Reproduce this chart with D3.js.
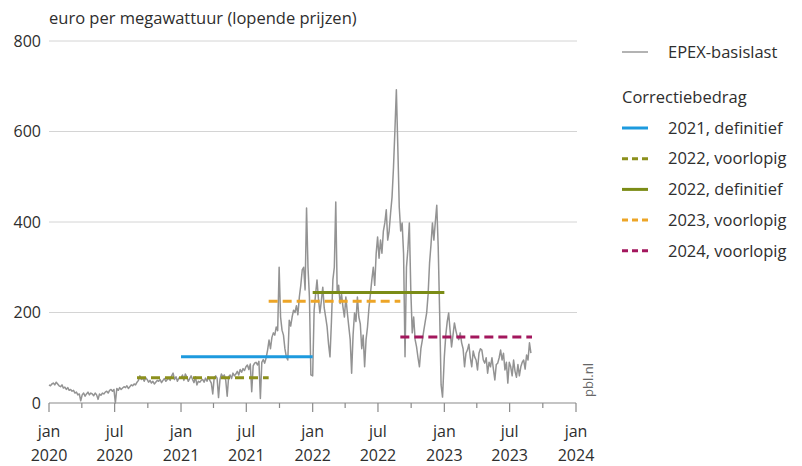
<!DOCTYPE html>
<html>
<head>
<meta charset="utf-8">
<script src="https://cdn.jsdelivr.net/npm/d3@7"></script>
<style>
  body { margin: 0; background: #fff; }
  svg text { font-family: "Open Sans", "DejaVu Sans", sans-serif; fill: #2e2e2e; }
</style>
</head>
<body>
<svg id="chart" width="802" height="466"></svg>
<script>
const prices2020 = [
  40, 38, 42, 44, 40, 46, 42, 38,
  36, 40, 33, 35, 30, 34, 28,
  30, 26, 28, 22, 24, 18, 20, 5,
  18, 22, 15, 20, 24, 18, 22,
  20, 16, 22, 18, 8, 20, 17, 22,
  20, 24, 26, 22, 28, 30, 26,
  30, 0, 32, 28, 34, 30, 33, 36,
  34, 38, 32, 36, 40, 38, 42, 40,
  46, 50, 60, 52, 55, 48, 56,
  52, 46, 50, 44, 48, 42, 46, 50,
  48, 52, 45, 50, 54, 48, 52,
  55, 50, 60, 66, 52, 58, 48, 55
];
const prices2021 = [
  55, 62, 50, 64, 58, 48, 54, 60,
  52, 45, 58, 40, 48, 46, 50,
  52, 46, 55, 48, 58, 50, 44, 20,
  56, 60, 55, 12, 52, 64, 58,
  62, 50, 15, 58, 62, 54, 66, 60,
  64, 70, 62, 74, 68, 76, 72,
  80, 84, 74, 86, 25, 82, 88, 90,
  84, 92, 10, 90, 96, 88, 100, 117,
  139, 120, 145, 155, 150, 168, 160,
  300, 190, 161, 150, 120, 102, 95, 183,
  170, 190, 205, 200, 215, 195, 234,
  260, 294, 300, 250, 431, 300, 234, 62
];
const prices2022 = [
  60, 205, 240, 272, 230, 199, 225, 256,
  210, 190, 168, 130, 102, 180, 272,
  300, 444, 243, 260, 220, 240, 212, 190,
  234, 200, 170, 140, 66, 150, 199,
  180, 234, 190, 175, 120, 150, 80, 140,
  168, 210, 240, 272, 300, 260, 330,
  367, 320, 360, 331, 380, 398, 427, 360,
  380, 420, 455, 520, 603, 692, 566, 433,
  380, 398, 330, 102, 300, 340, 398,
  250, 155, 190, 140, 124, 100, 80, 120,
  139, 160, 180, 199, 240, 309, 350,
  398, 360, 400, 437, 345, 199, 40, 13
];
const prices2023 = [
  102, 150, 180, 199, 160, 124, 150, 177,
  160, 146, 140, 155, 133, 120, 80,
  110, 117, 130, 100, 80, 115, 102, 95,
  73, 110, 120, 117, 95, 88, 100,
  66, 90, 80, 100, 75, 51, 85, 88,
  100, 117, 95, 110, 73, 90, 44,
  90, 80, 60, 95, 70, 57, 85, 60,
  80, 90, 95, 75, 106, 95, 133, 110
];

// correctiebedragen
const corrLabels = ["2021, definitief", "2022, voorlopig", "2022, definitief", "2023, voorlopig", "2024, voorlopig"];
const corrStart = ["2021-01-01", "2020-09-01", "2022-01-01", "2021-09-01", "2022-09-01"];
const corrEnd = ["2022-01-01", "2021-09-01", "2023-01-01", "2022-09-01", "2023-09-01"];
const corrValues = [102, 56, 244, 225, 146];
const corrColors = ["#1d9ade", "#8c901c", "#7b8c16", "#eda527", "#a3175d"];
const corrDashed = [false, true, false, true, true];

const yTicks = [0, 200, 400, 600, 800];

const svg = d3.select("#chart");
const parse = d3.utcParse("%Y-%m-%d");

const x = d3.scaleUtc()
  .domain([parse("2020-01-01"), parse("2024-01-01")])
  .range([49, 576]);
const y = d3.scaleLinear().domain([0, 800]).range([403, 41]);

// build the series from the yearly arrays
const series = [];
[[2020, prices2020], [2021, prices2021], [2022, prices2022], [2023, prices2023]].forEach(([yr, arr]) => {
  arr.forEach((v, i) => {
    series.push({ date: d3.utcDay.offset(new Date(Date.UTC(yr, 0, 1)), i * 4), value: v });
  });
});

// title
svg.append("text")
  .attr("x", 49)
  .attr("y", 24)
  .style("font-size", "16.5px")
  .text("euro per megawattuur (lopende prijzen)");

// grid + y labels
const yAxis = svg.append("g");
yAxis.selectAll("line")
  .data(yTicks.filter((d) => d > 0))
  .enter()
  .append("line")
  .attr("x1", 49)
  .attr("x2", 577)
  .attr("y1", (d) => y(d))
  .attr("y2", (d) => y(d))
  .attr("stroke", "#d4d4d4")
  .attr("stroke-width", 1);
yAxis.selectAll("text")
  .data(yTicks)
  .enter()
  .append("text")
  .attr("x", 41)
  .attr("y", (d) => y(d))
  .attr("dy", "0.35em")
  .attr("text-anchor", "end")
  .style("font-size", "16px")
  .text((d) => d);

// x axis
const xAxis = svg.append("g");
xAxis.append("line")
  .attr("x1", 49)
  .attr("x2", 576)
  .attr("y1", y(0))
  .attr("y2", y(0))
  .attr("stroke", "#8a8a8a")
  .attr("stroke-width", 1.2);
const quarters = d3.utcMonth.every(3).range(parse("2020-01-01"), parse("2024-01-02"));
xAxis.selectAll(".tick")
  .data(quarters)
  .enter()
  .append("line")
  .attr("x1", (d) => x(d))
  .attr("x2", (d) => x(d))
  .attr("y1", y(0))
  .attr("y2", (d) => y(0) + (d.getUTCMonth() % 6 === 0 ? 9 : 5))
  .attr("stroke", "#8a8a8a")
  .attr("stroke-width", 1.2);
const labelled = quarters.filter((d) => d.getUTCMonth() % 6 === 0);
const monthName = (d) => (d.getUTCMonth() === 0 ? "jan" : "jul");
xAxis.selectAll(".mon")
  .data(labelled)
  .enter()
  .append("text")
  .attr("x", (d) => x(d))
  .attr("y", 437)
  .attr("text-anchor", "middle")
  .style("font-size", "16px")
  .text(monthName);
xAxis.selectAll(".yr")
  .data(labelled)
  .enter()
  .append("text")
  .attr("x", (d) => x(d))
  .attr("y", 461)
  .attr("text-anchor", "middle")
  .style("font-size", "16px")
  .text((d) => d.getUTCFullYear());

// price line
const line = d3.line()
  .x((d) => x(d.date))
  .y((d) => y(d.value));
svg.append("path")
  .datum(series)
  .attr("fill", "none")
  .attr("stroke", "#939393")
  .attr("stroke-width", 1.5)
  .attr("stroke-linejoin", "round")
  .attr("d", line);

// correction amounts
svg.selectAll(".corr")
  .data(corrValues)
  .enter()
  .append("line")
  .attr("x1", (d, i) => x(parse(corrStart[i])))
  .attr("x2", (d, i) => x(parse(corrEnd[i])))
  .attr("y1", (d) => y(d))
  .attr("y2", (d) => y(d))
  .attr("stroke", (d, i) => corrColors[i])
  .attr("stroke-width", 3)
  .attr("stroke-dasharray", (d, i) => (corrDashed[i] ? "9,5" : null));

// source
svg.append("text")
  .attr("transform", "translate(593,380) rotate(-90)")
  .attr("text-anchor", "middle")
  .style("font-size", "13px")
  .style("fill", "#666")
  .text("pbl.nl");

// legend
const legend = svg.append("g");
legend.append("line")
  .attr("x1", 622).attr("x2", 648)
  .attr("y1", 52).attr("y2", 52)
  .attr("stroke", "#9a9a9a")
  .attr("stroke-width", 1.5);
legend.append("text")
  .attr("x", 668).attr("y", 52).attr("dy", "0.35em")
  .style("font-size", "16.5px")
  .text("EPEX-basislast");
legend.append("text")
  .attr("x", 622).attr("y", 97).attr("dy", "0.35em")
  .style("font-size", "16.5px")
  .text("Correctiebedrag");
const rows = legend.selectAll(".row")
  .data(corrLabels)
  .enter()
  .append("g")
  .attr("transform", (d, i) => `translate(0,${128 + i * 30.7})`);
rows.append("line")
  .attr("x1", 622).attr("x2", 648)
  .attr("stroke", (d, i) => corrColors[i])
  .attr("stroke-width", 3)
  .attr("stroke-dasharray", (d, i) => (corrDashed[i] ? "6,4" : null));
rows.append("text")
  .attr("x", 668).attr("dy", "0.35em")
  .style("font-size", "16.5px")
  .text((d) => d);
</script>
</body>
</html>
